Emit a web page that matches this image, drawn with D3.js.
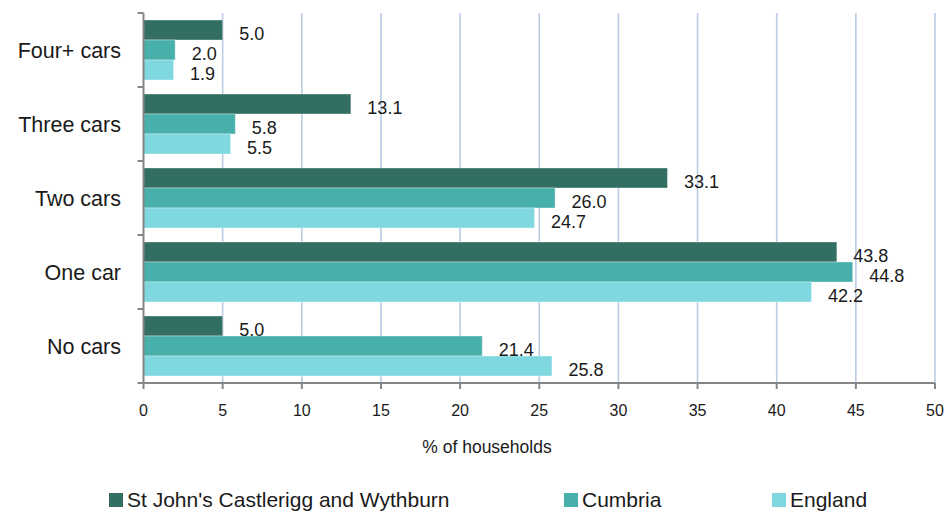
<!DOCTYPE html>
<html lang="en">
    <head>
        <title>Car availability</title>
        <script src="https://d3js.org/d3.v7.min.js" charset="utf-8"></script>
    </head>
    <style>
            body {
              margin: 0;
              background: #fff;
            }

            text {
              font-family: "Liberation Sans", Arial, sans-serif;
              fill: #1a1a1a;
            }

            .grid line {
              stroke: #b9cde5;
              stroke-width: 1.6px;
            }

            .axis-line {
              stroke: #868686;
              stroke-width: 2px;
              fill: none;
            }

            .bar {
              stroke: #ffffff;
              stroke-opacity: 0.35;
              stroke-width: 1px;
            }
    </style>

    <body>
        <script>
            // data
            var categories = ["Four+ cars", "Three cars", "Two cars", "One car", "No cars"];
            var seriesNames = ["St John's Castlerigg and Wythburn", "Cumbria", "England"];
            var stJohns = [5.0, 13.1, 33.1, 43.8, 5.0];
            var cumbria = [2.0, 5.8, 26.0, 44.8, 21.4];
            var england = [1.9, 5.5, 24.7, 42.2, 25.8];
            var xTicks = [0, 5, 10, 15, 20, 25, 30, 35, 40, 45, 50];
            var colors = ["#326e62", "#48b0ab", "#7fd8df"];

            var width = 946, height = 512;
            var seriesValues = [stJohns, cumbria, england];

            var rows = [];
            categories.forEach(function(c, i) {
                seriesNames.forEach(function(s, j) {
                    rows.push({cat: c, series: s, idx: j, value: seriesValues[j][i]});
                });
            });

            var svg = d3.select("body").append("svg")
                .attr("width", width)
                .attr("height", height);

            var x = d3.scaleLinear()
                .domain([0, 50])
                .range([143.5, 935]);

            var y0 = d3.scaleBand()
                .domain(categories)
                .range([13, 383])
                .paddingInner(14 / 74)
                .paddingOuter(7 / 74);

            var y1 = d3.scaleBand()
                .domain(seriesNames)
                .range([0, y0.bandwidth()]);

            var step = y0.step();
            var gap = step * y0.paddingInner() / 2;

            // vertical gridlines
            svg.append("g")
                .attr("class", "grid")
              .selectAll("line")
                .data(xTicks.slice(1))
                .enter().append("line")
                .attr("x1", x)
                .attr("x2", x)
                .attr("y1", 13)
                .attr("y2", 383);

            // bars
            svg.append("g")
              .selectAll("rect")
                .data(rows)
                .enter().append("rect")
                .attr("class", "bar")
                .attr("x", x(0))
                .attr("y", function(d) { return y0(d.cat) + y1(d.series); })
                .attr("width", function(d) { return x(d.value) - x(0); })
                .attr("height", y1.bandwidth())
                .attr("fill", function(d) { return colors[d.idx]; });

            // value labels
            svg.append("g")
              .selectAll("text")
                .data(rows)
                .enter().append("text")
                .attr("x", function(d) { return x(d.value) + 16.5; })
                .attr("y", function(d) { return y0(d.cat) + y1(d.series) + y1.bandwidth() / 2 + 9.5; })
                .style("font-size", "18px")
                .text(function(d) { return d.value.toFixed(1); });

            // axes
            svg.append("line")
                .attr("class", "axis-line")
                .attr("x1", x(0)).attr("x2", x(0))
                .attr("y1", 13).attr("y2", 383);

            svg.append("line")
                .attr("class", "axis-line")
                .attr("x1", x(0)).attr("x2", x(50))
                .attr("y1", 383).attr("y2", 383);

            var yTickPos = categories.map(function(c) { return y0(c) - gap; }).concat([383]);
            svg.append("g")
              .selectAll("line")
                .data(yTickPos)
                .enter().append("line")
                .attr("class", "axis-line")
                .attr("x1", x(0) - 6).attr("x2", x(0))
                .attr("y1", function(d) { return d; })
                .attr("y2", function(d) { return d; });

            svg.append("g")
              .selectAll("line")
                .data(xTicks)
                .enter().append("line")
                .attr("class", "axis-line")
                .attr("x1", x).attr("x2", x)
                .attr("y1", 383).attr("y2", 389);

            svg.append("g")
              .selectAll("text")
                .data(xTicks)
                .enter().append("text")
                .attr("x", x)
                .attr("y", 416)
                .attr("text-anchor", "middle")
                .style("font-size", "16px")
                .text(function(d) { return d; });

            // category labels
            svg.append("g")
              .selectAll("text")
                .data(categories)
                .enter().append("text")
                .attr("x", 121)
                .attr("y", function(d) { return y0(d) + y0.bandwidth() / 2 + 8; })
                .attr("text-anchor", "end")
                .style("font-size", "21.5px")
                .text(function(d) { return d; });

            svg.append("text")
                .attr("x", 487)
                .attr("y", 453)
                .attr("text-anchor", "middle")
                .style("font-size", "17.5px")
                .text("% of households");

            // legend
            var legendX = [109, 564, 772];
            var legend = svg.append("g")
              .selectAll("g")
                .data(seriesNames)
                .enter().append("g")
                .attr("transform", function(d, i) { return "translate(" + legendX[i] + ",493)"; });

            legend.append("rect")
                .attr("width", 14)
                .attr("height", 14)
                .attr("fill", function(d, i) { return colors[i]; });

            legend.append("text")
                .attr("x", 18)
                .attr("y", 14)
                .style("font-size", "21px")
                .text(function(d) { return d; });
        </script>
    </body>
</html>
